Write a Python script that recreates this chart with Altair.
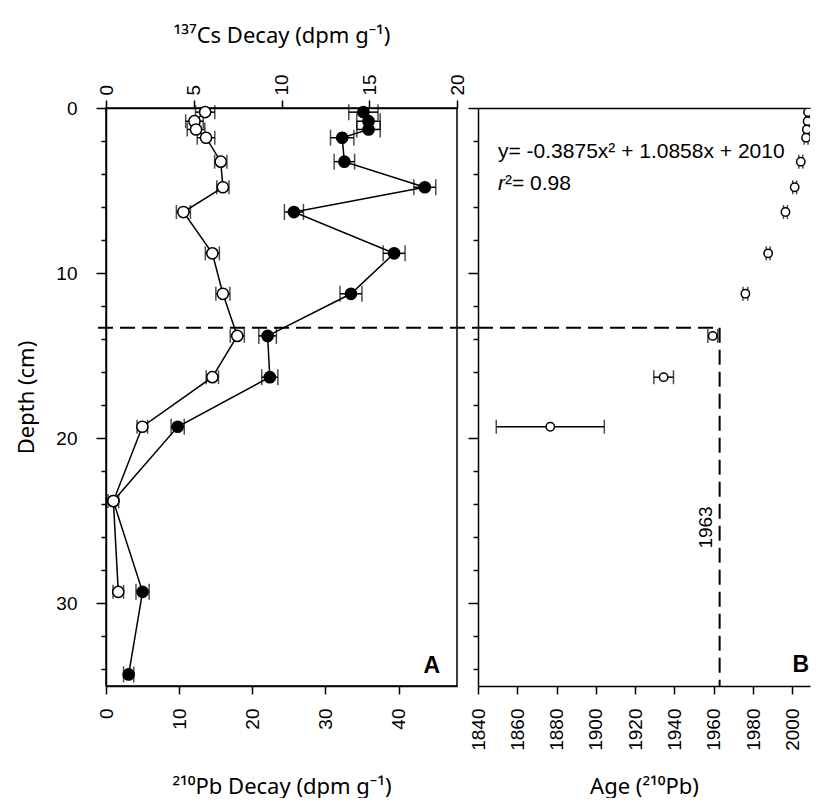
import altair as alt
import pandas as pd

# ---------------- data ----------------
depth = [0.25, 0.8, 1.3, 1.8, 3.25, 4.8, 6.3, 8.8, 11.25, 13.8, 16.3, 19.3, 23.8, 29.3, 34.3]
pb210 = [35.2, 35.9, 35.9, 32.3, 32.6, 43.6, 25.7, 39.4, 33.5, 22.1, 22.4, 9.8, 1.0, 5.0, 3.1]
pb210_err = [2.0, 1.6, 1.6, 1.6, 1.4, 1.5, 1.3, 1.5, 1.5, 1.2, 1.1, 0.9, None, 0.9, 0.7]
cs137 = [5.65, 5.04, 5.13, 5.70, 6.54, 6.66, 4.41, 6.06, 6.66, 7.48, 6.06, 2.07, 0.42, 0.70]
cs137_err = [0.55, 0.5, 0.5, 0.5, 0.35, 0.35, 0.4, 0.4, 0.4, 0.4, 0.35, 0.3, 0.3, 0.3]
age = [2008.0, 2007.8, 2007.4, 2007.0, 2004.3, 2001.2, 1996.5, 1987.7, 1976.1, 1959.5, 1934.5, 1876.8]
age_err = [1.0, 1.0, 1.0, 1.0, 1.0, 1.0, 1.0, 1.0, 1.2, 2.5, 5.0, 27.5]

pb_ticks = [0, 10, 20, 30, 40]
cs_ticks = [0, 5, 10, 15, 20]
age_ticks = [1840, 1860, 1880, 1900, 1920, 1940, 1960, 1980, 2000]
depth_ticks = list(range(0, 36, 2))

cs_peak_depth = 13.3
cs_peak_year = 1963
fit_text = "y= -0.3875x\u00b2 + 1.0858x + 2010"
r2_text = "\u00b2= 0.98"

# ---------------- layout constants ----------------
FONT = "Liberation Sans"
TFONT = "Noto Sans"
WA, WB, H = 351, 332, 578
GAP = 21

pb_scale = alt.Scale(domain=[0, 48], nice=False, zero=False)
cs_scale = alt.Scale(domain=[0, 20], nice=False, zero=False)
age_scale = alt.Scale(domain=[1840, 2009], nice=False, zero=False)
y_scale = alt.Scale(domain=[0, 35], reverse=True, nice=False, zero=False)


def mk_df(d, v, e):
    n = len(v)
    df = pd.DataFrame({"depth": d[:n], "value": v, "err": pd.to_numeric(pd.Series(e[:n]), errors="coerce")})
    df["lo"] = df["value"] - df["err"]
    df["hi"] = df["value"] + df["err"]
    return df


pb_df = mk_df(depth, pb210, pb210_err)
cs_df = mk_df(depth, cs137, cs137_err)
age_df = mk_df(depth, age, age_err)

tick_cond = {"condition": {"test": "datum.value % 10 === 0", "value": 10}, "value": 5}

y_axis_A = alt.Axis(
    title="Depth (cm)", values=depth_ticks,
    labelExpr="datum.value % 10 === 0 ? datum.label : ''",
    tickSize=tick_cond, labelPadding=19, titleX=-80, titleBaseline="middle",
)
y_axis_B = alt.Axis(title=None, values=depth_ticks, labels=False, tickSize=tick_cond)

pb_axis = alt.Axis(title="\u00b2\u00b9\u2070Pb Decay (dpm g\u207b\u00b9)", values=pb_ticks, labelAngle=270,
                   format="d", tickSize=8, labelPadding=14, titleY=107, titleBaseline="alphabetic")
cs_axis = alt.Axis(title="\u00b9\u00b3\u2077Cs Decay (dpm g\u207b\u00b9)", values=cs_ticks, labelAngle=270,
                   format="d", orient="top", tickSize=8, labelPadding=5, titleY=-66, titleBaseline="alphabetic")
age_axis = alt.Axis(title="Age (\u00b2\u00b9\u2070Pb)", values=age_ticks, labelAngle=270,
                    format="d", tickSize=8, labelPadding=14, titleY=107, titleBaseline="alphabetic")


def Y(yaxis, field="depth:Q"):
    return alt.Y(field, scale=y_scale, axis=yaxis)


def series(df, scale, axis, fill, size, cap, yaxis, line=True, clip=False):
    layers = []
    base = alt.Chart(df)
    if line:
        layers.append(base.mark_line(color="black", strokeWidth=1.5).encode(
            x=alt.X("value:Q", scale=scale, axis=axis), y=Y(yaxis), order="depth:Q"))
        axis = None
    layers.append(base.mark_rule(color="black", strokeWidth=1.5, clip=clip).encode(
        x=alt.X("lo:Q", scale=scale, axis=None), x2="hi:Q", y=Y(yaxis)))
    for f in ("lo", "hi"):
        layers.append(base.mark_tick(color="black", orient="vertical", size=cap, thickness=1.5, clip=clip).encode(
            x=alt.X(f + ":Q", scale=scale, axis=None), y=Y(yaxis)))
    layers.append(base.mark_point(shape="circle", filled=True, fill=fill, stroke="black", strokeWidth=1.5,
                                  size=size, opacity=1, clip=clip).encode(
        x=alt.X("value:Q", scale=scale, axis=axis), y=Y(yaxis)))
    return layers


peak_df = pd.DataFrame({"d": [cs_peak_depth], "yr": [cs_peak_year], "x0": [age_scale.domain[0]],
                        "bottom": [y_scale.domain[1]]})

# ---------------- panel A ----------------
dashA = alt.Chart(peak_df).mark_rule(color="black", strokeWidth=2, strokeDash=[15, 7]).encode(
    y=Y(y_axis_A, "d:Q"), x=alt.value(-8), x2=alt.value(WA + GAP))
labelA = alt.Chart(pd.DataFrame({"t": ["A"]})).mark_text(
    font=FONT, fontSize=23, fontWeight="bold", align="right", baseline="alphabetic", color="black").encode(
    text="t:N", x=alt.value(WA - 17), y=alt.value(H - 13))

layersA = series(pb_df, pb_scale, pb_axis, "black", 125, 16, y_axis_A) + \
    series(cs_df, cs_scale, cs_axis, "white", 125, 14, y_axis_A) + [dashA, labelA]

panelA = alt.layer(*layersA).resolve_scale(x="independent").properties(
    width=WA, height=H, view=alt.ViewBackground(stroke="black", strokeWidth=1.5))

# ---------------- panel B ----------------
top_axis_B = alt.Chart(peak_df).mark_point(opacity=0).encode(
    x=alt.X("x0:Q", scale=age_scale,
            axis=alt.Axis(orient="top", labels=False, ticks=False, title=None)),
    y=Y(y_axis_B, "d:Q"))
dashB_h = alt.Chart(peak_df).mark_rule(color="black", strokeWidth=2, strokeDash=[15, 7]).encode(
    x=alt.X("x0:Q", scale=age_scale, axis=None), x2="yr:Q", y=Y(y_axis_B, "d:Q"))
dashB_v = alt.Chart(peak_df).mark_rule(color="black", strokeWidth=2, strokeDash=[15, 7]).encode(
    x=alt.X("yr:Q", scale=age_scale, axis=None), y=Y(y_axis_B, "d:Q"), y2="bottom:Q")
label1963 = alt.Chart(pd.DataFrame({"t": [str(cs_peak_year)], "yr": [cs_peak_year], "d": [25.4]})).mark_text(
    font=FONT, fontSize=19, angle=270, align="center", baseline="bottom", dy=-4, color="black").encode(
    text="t:N", x=alt.X("yr:Q", scale=age_scale, axis=None), y=Y(y_axis_B, "d:Q"))
eq = alt.Chart(pd.DataFrame({"t": [fit_text]})).mark_text(
    font=FONT, fontSize=21, align="left", baseline="alphabetic", color="black").encode(
    text="t:N", x=alt.value(20), y=alt.value(50))
r_it = alt.Chart(pd.DataFrame({"t": ["r"]})).mark_text(
    font=FONT, fontSize=21, fontStyle="italic", align="left", baseline="alphabetic", color="black").encode(
    text="t:N", x=alt.value(20), y=alt.value(82))
r2 = alt.Chart(pd.DataFrame({"t": [r2_text]})).mark_text(
    font=FONT, fontSize=21, align="left", baseline="alphabetic", color="black").encode(
    text="t:N", x=alt.value(27), y=alt.value(82))
labelB = alt.Chart(pd.DataFrame({"t": ["B"]})).mark_text(
    font=FONT, fontSize=23, fontWeight="bold", align="right", baseline="alphabetic", color="black").encode(
    text="t:N", x=alt.value(WB - 1), y=alt.value(H - 14))

layersB = [top_axis_B, dashB_h, dashB_v] + \
    series(age_df, age_scale, age_axis, "white", 70, 14, y_axis_B, line=False, clip=True) + \
    [label1963, eq, r_it, r2, labelB]

panelB = alt.layer(*layersB).resolve_scale(x="independent").properties(
    width=WB, height=H, view=alt.ViewBackground(stroke="transparent"))

chart = alt.hconcat(panelA, panelB, spacing=GAP, bounds="flush").properties(
    padding={"left": 6, "top": 15, "right": 0, "bottom": 0}
).configure_axis(
    domainColor="black", domainWidth=1.5, tickColor="black", tickWidth=1.5,
    labelFont=FONT, labelFontSize=19, labelColor="black",
    titleFont=TFONT, titleFontSize=22, titleFontWeight="normal", titleColor="black", grid=False,
)

chart.save("out.html", embed_options={"renderer": "svg", "actions": False})
